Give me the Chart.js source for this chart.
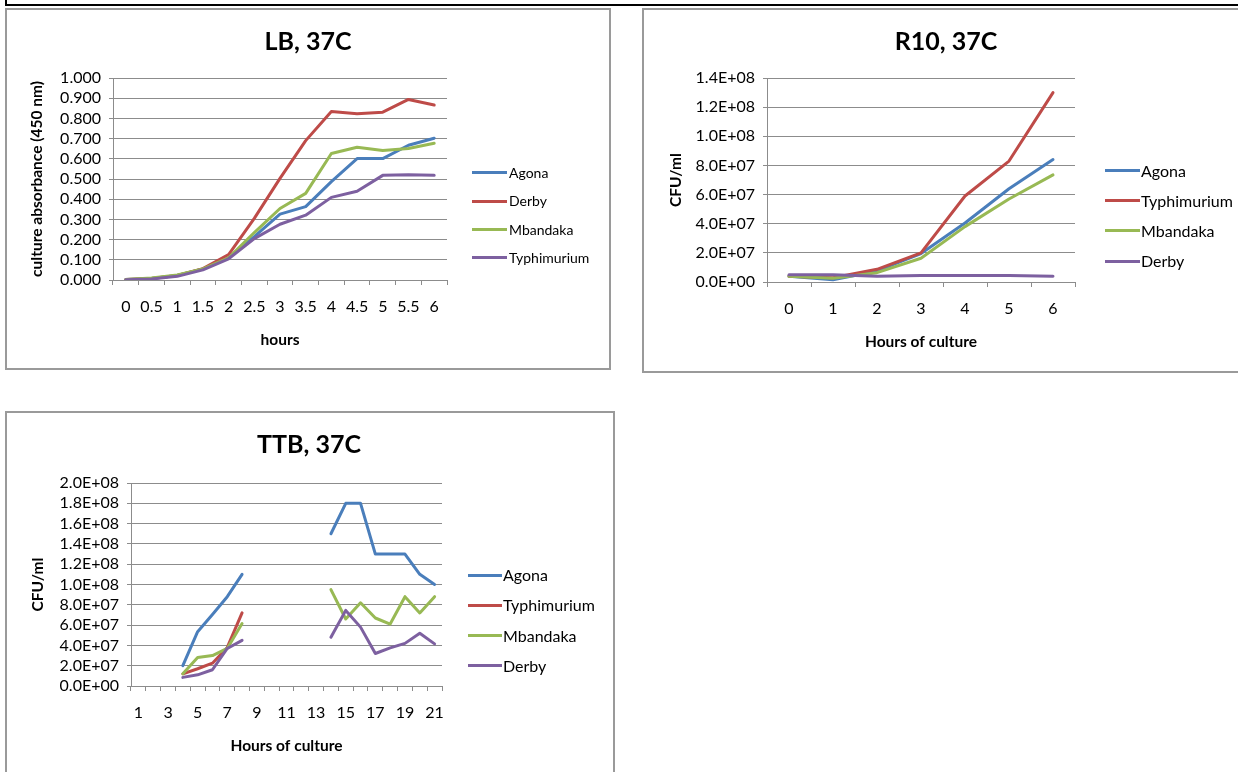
<!DOCTYPE html>
<html>
<head>
<meta charset="utf-8">
<script src="https://cdn.jsdelivr.net/npm/chart.js@4.4.1/dist/chart.umd.min.js"></script>
<style>
  body { margin: 0; width: 1238px; height: 772px; overflow: hidden; background: #fff; font-family: Lato, sans-serif; position: relative; color: #000; }
  .rule { position: absolute; background: #000; }
  .panel { position: absolute; border: 2px solid #9a9a9a; box-sizing: border-box; }
  canvas { position: absolute; }
  .title { position: absolute; width: 300px; text-align: center; font-weight: bold; font-size: 25px; line-height: 30px; }
  .key-line { position: absolute; height: 3px; }
  .key-text { position: absolute; line-height: 20px; white-space: nowrap; }
</style>
</head>
<body>
<div class="rule" style="left:5px;top:4px;width:1233px;height:2px"></div>
<div class="rule" style="left:5px;top:0;width:2px;height:6px"></div>

<div class="panel" style="left:5px;top:8px;width:606px;height:362px"></div>
<div class="panel" style="left:642px;top:8px;width:700px;height:365px"></div>
<div class="panel" style="left:5px;top:411px;width:610px;height:500px"></div>

<canvas id="lbChart" width="602" height="358" style="left:7px;top:10px"></canvas>
<canvas id="r10Chart" width="594" height="361" style="left:644px;top:10px"></canvas>
<canvas id="ttbChart" width="606" height="359" style="left:7px;top:413px"></canvas>

<div class="title" style="left:158px;top:25px">LB, 37C</div>
<div class="title" style="left:796px;top:25px">R10, 37C</div>
<div class="title" style="left:159px;top:428px">TTB, 37C</div>

<script>
// LB, 37C - absorbance
const lbHours = ['0', '0.5', '1', '1.5', '2', '2.5', '3', '3.5', '4', '4.5', '5', '5.5', '6'];
const lbNames = ['Agona', 'Derby', 'Mbandaka', 'Typhimurium'];
const lbAgona = [0.002, 0.008, 0.022, 0.055, 0.110, 0.215, 0.326, 0.363, 0.487, 0.601, 0.601, 0.667, 0.702];
const lbDerby = [0.002, 0.008, 0.022, 0.056, 0.126, 0.305, 0.503, 0.690, 0.834, 0.823, 0.831, 0.894, 0.866];
const lbMbandaka = [0.003, 0.010, 0.025, 0.055, 0.110, 0.235, 0.354, 0.429, 0.626, 0.657, 0.641, 0.651, 0.677];
const lbTyphimurium = [0.001, 0.005, 0.018, 0.050, 0.105, 0.205, 0.276, 0.321, 0.409, 0.439, 0.518, 0.521, 0.518];
const lbYTicks = ['0.000', '0.100', '0.200', '0.300', '0.400', '0.500', '0.600', '0.700', '0.800', '0.900', '1.000'];

// R10, 37C - CFU/ml
const r10Hours = ['0', '1', '2', '3', '4', '5', '6'];
const r10Names = ['Agona', 'Typhimurium', 'Mbandaka', 'Derby'];
const r10Agona = [4.0e6, 1.5e6, 7.6e6, 1.95e7, 4.05e7, 6.4e7, 8.4e7];
const r10Typhimurium = [4.0e6, 3.0e6, 8.7e6, 2.0e7, 5.9e7, 8.3e7, 1.30e8];
const r10Mbandaka = [3.9e6, 2.5e6, 6.4e6, 1.63e7, 3.8e7, 5.7e7, 7.35e7];
const r10Derby = [5.0e6, 5.0e6, 4.0e6, 4.5e6, 4.5e6, 4.5e6, 3.9e6];
const r10YTicks = ['0.0E+00', '2.0E+07', '4.0E+07', '6.0E+07', '8.0E+07', '1.0E+08', '1.2E+08', '1.4E+08'];

// TTB, 37C - CFU/ml, hours 9-13 not sampled
const ttbHours = ['1', '2', '3', '4', '5', '6', '7', '8', '9', '10', '11', '12', '13', '14', '15', '16', '17', '18', '19', '20', '21'];
const ttbNames = ['Agona', 'Typhimurium', 'Mbandaka', 'Derby'];
const ttbAgona = [null, null, null, 2.0e7, 5.35e7, 7.05e7, 8.8e7, 1.1e8, null, null, null, null, null, 1.5e8, 1.8e8, 1.8e8, 1.3e8, 1.3e8, 1.3e8, 1.1e8, 1.0e8];
const ttbTyphimurium = [null, null, null, 1.2e7, 1.7e7, 2.25e7, 3.8e7, 7.2e7, null, null, null, null, null, null, null, null, null, null, null, null, null];
const ttbMbandaka = [null, null, null, 1.2e7, 2.8e7, 3.0e7, 3.7e7, 6.15e7, null, null, null, null, null, 9.5e7, 6.6e7, 8.2e7, 6.7e7, 6.1e7, 8.8e7, 7.2e7, 8.8e7];
const ttbDerby = [null, null, null, 0.85e7, 1.1e7, 1.6e7, 3.7e7, 4.5e7, null, null, null, null, null, 4.8e7, 7.45e7, 5.8e7, 3.2e7, 3.75e7, 4.2e7, 5.2e7, 4.15e7];
const ttbYTicks = ['0.0E+00', '2.0E+07', '4.0E+07', '6.0E+07', '8.0E+07', '1.0E+08', '1.2E+08', '1.4E+08', '1.6E+08', '1.8E+08', '2.0E+08'];

const palette = ['#4A7EBB', '#BE4B48', '#98B954', '#7D60A0'];
const gridColor = '#8c8c8c';

function makeLineChart(id, cfg) {
  const ctx = document.getElementById(id).getContext('2d');
  return new Chart(ctx, {
    type: 'line',
    data: {
      labels: cfg.labels,
      datasets: cfg.names.map((name, i) => ({
        label: name,
        data: cfg.series[i],
        borderColor: palette[i],
        borderWidth: 3,
        pointRadius: 0,
        fill: false,
        tension: 0,
        borderJoinStyle: 'round',
        borderCapStyle: 'round',
        order: cfg.names.length - i, // later series on top, like the original
      })),
    },
    options: {
      responsive: false,
      animation: false,
      devicePixelRatio: 1,
      layout: { padding: cfg.padding },
      plugins: { legend: { display: false }, tooltip: { enabled: false } },
      scales: {
        x: {
          offset: true,
          grid: { offset: true, drawOnChartArea: false, tickLength: 5, color: gridColor },
          border: { color: gridColor },
          ticks: { color: '#000', font: { family: 'Lato', size: 16 }, padding: 12.4, autoSkip: false, maxRotation: 0, callback: cfg.xLabel },
          title: { display: true, text: cfg.xTitle, color: '#000', font: { family: 'Lato', size: 15.5, weight: 'bold' }, padding: { top: 0, bottom: 0.7 } },
          afterFit: (s) => { s.height = 70; },
        },
        y: {
          min: 0,
          max: cfg.yMax,
          ticks: { stepSize: cfg.yStep, autoSkip: false, color: '#000', font: { family: 'Lato', size: 16 }, padding: 8, callback: (v, i) => cfg.yTicks[i] },
          grid: { color: gridColor, tickLength: 4 },
          border: { color: gridColor },
          title: { display: true, text: cfg.yTitle, color: '#000', font: { family: 'Lato', size: 15.5, weight: 'bold' }, padding: { top: cfg.yTitlePad, bottom: 0 } },
          afterFit: (s) => { s.width = cfg.yWidth; },
        },
      },
    },
  });
}

function addLegend(names, lineX, lineW, textX, firstY, gap, fontSize) {
  names.forEach((name, i) => {
    const y = firstY + i * gap;
    const line = document.createElement('div');
    line.className = 'key-line';
    line.style.cssText = `left:${lineX}px;top:${y - 1.5}px;width:${lineW}px;background:${palette[i]}`;
    const text = document.createElement('div');
    text.className = 'key-text';
    text.style.cssText = `left:${textX}px;top:${y - 10}px;font-size:${fontSize}px`;
    text.textContent = name;
    document.body.appendChild(line);
    document.body.appendChild(text);
  });
}

makeLineChart('lbChart', {
  labels: lbHours,
  names: lbNames,
  series: [lbAgona, lbDerby, lbMbandaka, lbTyphimurium],
  yMax: 1,
  yStep: 0.1,
  yTicks: lbYTicks,
  yTitle: 'culture absorbance (450 nm)',
  xTitle: 'hours',
  xLabel: (v, i) => lbHours[i],
  yWidth: 106,
  yTitlePad: 20.7,
  padding: { top: 68, right: 162, bottom: 18, left: 0 },
});

makeLineChart('r10Chart', {
  labels: r10Hours,
  names: r10Names,
  series: [r10Agona, r10Typhimurium, r10Mbandaka, r10Derby],
  yMax: 1.4e8,
  yStep: 2e7,
  yTicks: r10YTicks,
  yTitle: 'CFU/ml',
  xTitle: 'Hours of culture',
  xLabel: (v, i) => r10Hours[i],
  yWidth: 123,
  yTitlePad: 22.7,
  padding: { top: 68, right: 163, bottom: 19, left: 0 },
});

makeLineChart('ttbChart', {
  labels: ttbHours,
  names: ttbNames,
  series: [ttbAgona, ttbTyphimurium, ttbMbandaka, ttbDerby],
  yMax: 2e8,
  yStep: 2e7,
  yTicks: ttbYTicks,
  yTitle: 'CFU/ml',
  xTitle: 'Hours of culture',
  xLabel: (v, i) => (i % 2 === 0 ? ttbHours[i] : ''),
  yWidth: 124,
  yTitlePad: 21.7,
  padding: { top: 70, right: 171, bottom: 16, left: 0 },
});

addLegend(lbNames, 472, 35, 509, 172.7, 28.4, 14);
addLegend(r10Names, 1105, 35, 1141, 170.7, 30.1, 16);
addLegend(ttbNames, 468, 34, 503, 575, 30.3, 16);
</script>
</body>
</html>
